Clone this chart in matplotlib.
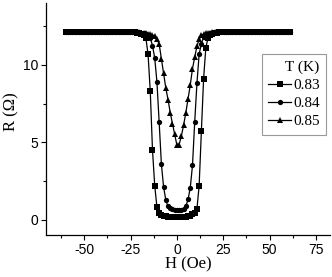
import numpy as np
import matplotlib
matplotlib.use('Agg')
import matplotlib.pyplot as plt
from matplotlib.ticker import MultipleLocator

plt.rcParams['axes.unicode_minus'] = False

# field sweep grid (Oe): -60 ... 61.2, step 1.2
H = np.round(np.arange(-60, 61.3, 1.2), 1)

# resistance (Ohm) in the dip region, H = -24 ... 24
dip_083 = [12.1, 12.1, 12.08, 12.05, 12.0, 11.95, 11.75, 10.7, 8.3, 4.5,
           2.2, 0.8, 0.45, 0.32, 0.26, 0.22, 0.19, 0.17, 0.16, 0.15, 0.15,
           0.15, 0.16, 0.17, 0.19, 0.22, 0.26, 0.33, 0.42, 0.68, 2.2,
           5.7, 9.1, 11.1, 11.75, 11.95, 12.02, 12.06, 12.08, 12.1, 12.1]
dip_084 = [12.1, 12.1, 12.1, 12.08, 12.06, 12.03, 11.98, 11.9, 11.75, 11.25,
           10.45, 8.9, 6.3, 3.6, 2.1, 1.25, 0.85, 0.72, 0.66, 0.62, 0.6,
           0.61, 0.64, 0.7, 0.85, 1.3, 2.05, 3.5, 6.3, 8.8, 10.7,
           11.35, 11.8, 11.95, 12.02, 12.05, 12.08, 12.1, 12.1, 12.1, 12.1]
dip_085 = [12.1, 12.1, 12.1, 12.1, 12.08, 12.07, 12.05, 12.02, 12.0, 11.95,
           11.85, 11.7, 11.35, 10.4, 9.45, 8.5, 7.75, 6.9, 6.2, 5.5, 4.8,
           4.85, 5.4, 6.1, 6.9, 7.8, 8.7, 9.75, 10.5, 11.2, 11.65,
           11.9, 12.0, 12.05, 12.07, 12.08, 12.1, 12.1, 12.1, 12.1, 12.1]
plateau = 12.1
n_left = 30   # points from -60 to -25.2
n_right = 31  # points from 25.2 to 61.2

temps = ['0.83', '0.84', '0.85']
markers = ['s', 'o', '^']
curves = [dip_083, dip_084, dip_085]

fig = plt.figure(figsize=(3.32, 2.77), dpi=100)
ax = fig.add_axes([0.1386, 0.1516, 0.855, 0.8375])

for t, m, dip in zip(temps, markers, curves):
    R = [plateau] * n_left + dip + [plateau] * n_right
    ax.plot(H, R, color='black', linewidth=0.9, marker=m, markersize=3.8,
            markeredgewidth=0, label=t)

ax.set_xlim(-70.7, 82.6)
ax.set_ylim(-1.0, 14.0)
ax.xaxis.set_major_locator(MultipleLocator(25))
ax.xaxis.set_minor_locator(MultipleLocator(12.5))
ax.yaxis.set_major_locator(MultipleLocator(5))
ax.yaxis.set_minor_locator(MultipleLocator(2.5))
ax.tick_params(which='major', direction='out', length=3.5, width=0.8, pad=2)
ax.tick_params(which='minor', direction='out', length=2, width=0.8)
for lab in ax.get_xticklabels() + ax.get_yticklabels():
    lab.set_family('Liberation Sans')
    lab.set_fontsize(10)

ax.spines['top'].set_visible(False)
ax.spines['right'].set_visible(False)
ax.spines['left'].set_linewidth(0.9)
ax.spines['bottom'].set_linewidth(0.9)

ax.set_xlabel('H (Oe)', family='Liberation Serif', fontsize=12, labelpad=0)
ax.set_ylabel('R (\u03a9)', family='Liberation Serif', fontsize=12, labelpad=2)
ax.yaxis.set_label_coords(-0.095, 0.53)

leg = ax.legend(title='T (K)', loc='upper right', bbox_to_anchor=(0.985, 0.78),
                prop={'family': 'Liberation Serif', 'size': 11},
                title_fontproperties={'family': 'Liberation Serif', 'size': 11},
                alignment='right', fancybox=False, framealpha=1,
                edgecolor='#999999', handlelength=1.5, handletextpad=0.1,
                borderpad=0.4, labelspacing=0.3, borderaxespad=0)
leg.get_frame().set_linewidth(0.8)

fig.savefig('out.png', dpi=100)
